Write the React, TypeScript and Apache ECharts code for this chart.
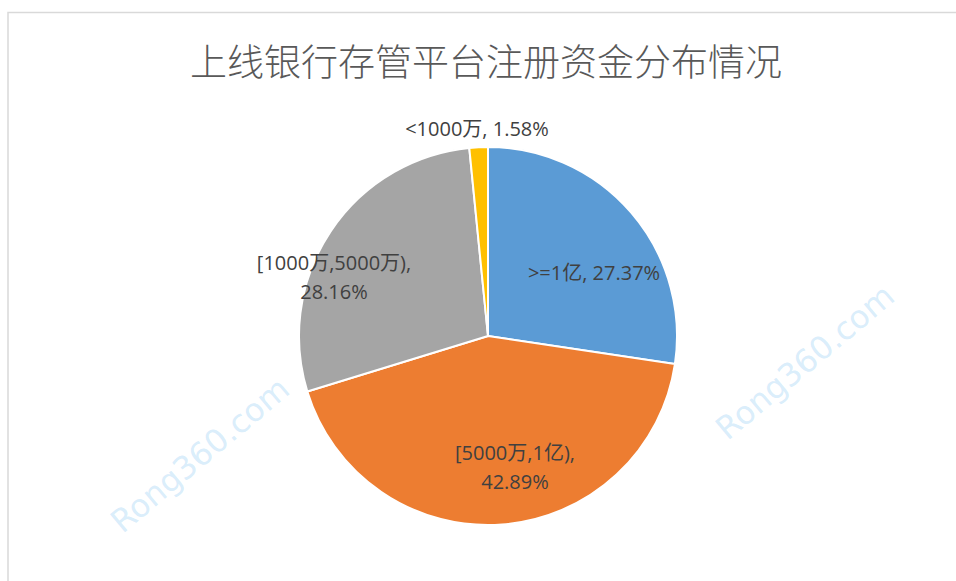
import React, { useEffect, useRef } from "react";
import * as echarts from "echarts";

const titleText = "上线银行存管平台注册资金分布情况";
const categories = [">=1亿", "[5000万,1亿)", "[1000万,5000万)", "<1000万"];
const values = [27.37, 42.89, 28.16, 1.58];
const colors = ["#5B9BD5", "#ED7D31", "#A5A5A5", "#FFC000"];
const labelWrap = [false, true, true, false];
const labelPos = [
  [594, 272],
  [515, 467],
  [334, 277],
  [477, 128],
];
const watermarks = [
  { text: "Rong360.com", x: 200, y: 455 },
  { text: "Rong360.com", x: 805, y: 362 },
];

export default function App() {
  const ref = useRef<HTMLDivElement>(null);
  useEffect(() => {
    if (!ref.current) return;
    const chart = echarts.init(ref.current, undefined, { renderer: "svg" });
    chart.setOption({
      animation: false,
      backgroundColor: "#ffffff",
      graphic: [
        {
          type: "rect",
          z: -10,
          shape: { x: 8, y: 12.5, width: 960, height: 600 },
          style: { fill: "#ffffff", stroke: "#D9D9D9", lineWidth: 1.5 },
        },
        ...watermarks.map((w) => ({
          type: "text",
          z: -5,
          x: w.x,
          y: w.y,
          rotation: (40 * Math.PI) / 180,
          style: {
            text: w.text,
            fill: "rgba(160,210,245,0.4)",
            font: "32px 'DejaVu Sans', sans-serif",
            align: "center",
            verticalAlign: "middle",
          },
        })),
      ],
      title: {
        text: titleText,
        left: 185,
        top: 36,
        textStyle: {
          fontFamily: "'Noto Sans CJK SC', sans-serif",
          fontSize: 37,
          fontWeight: 300,
          color: "#595959",
        },
      },
      series: [
        {
          type: "pie",
          center: [488, 336],
          radius: 189,
          startAngle: 90,
          clockwise: true,
          avoidLabelOverlap: false,
          itemStyle: { borderColor: "#ffffff", borderWidth: 2 },
          label: {
            show: true,
            position: "inside",
            fontFamily: "'Open Sans', 'Noto Sans CJK SC', sans-serif",
            fontSize: 20,
            color: "#404040",
            align: "center",
            lineHeight: 29,
            formatter: (p: any) =>
              p.name + "," + (labelWrap[p.dataIndex] ? "\n" : " ") + p.value.toFixed(2) + "%",
          },
          labelLine: { show: false },
          labelLayout: (p: any) => ({
            x: labelPos[p.dataIndex][0],
            y: labelPos[p.dataIndex][1],
            align: "center",
            verticalAlign: "middle",
          }),
          emphasis: { disabled: true },
          data: categories.map((c, i) => ({
            name: c,
            value: values[i],
            itemStyle: { color: colors[i] },
          })),
        },
      ],
    });
    return () => chart.dispose();
  }, []);
  return (
    <div
      ref={ref}
      style={{ position: "absolute", left: 0, top: 0, width: 956, height: 581 }}
    />
  );
}
